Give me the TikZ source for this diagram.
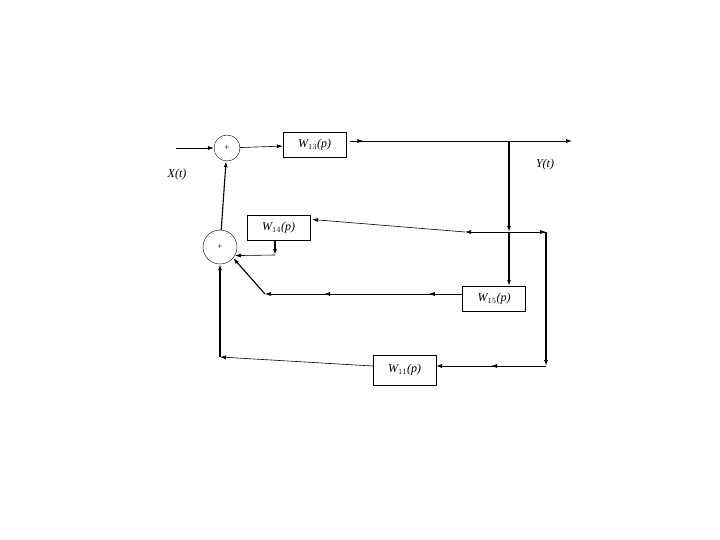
\documentclass[tikz,border=0pt]{standalone}
\usepackage{fontspec}
\setmainfont{Liberation Serif}
\usetikzlibrary{arrows.meta,decorations.markings,calc}
\begin{document}
\begin{tikzpicture}[x=1pt,y=-1pt,
  blk/.style={draw,minimum width=63pt,minimum height=25pt,inner sep=0pt,font=\itshape\fontsize{12}{12}\selectfont},
  sum/.style={draw,circle,inner sep=0pt,font=\fontsize{9}{9}\selectfont},
  ar/.style={-{Latex[length=6pt,width=4pt]},line width=0.6pt},
  thk/.style={ar,line width=1.1pt},
  mid/.style={postaction={decorate},decoration={markings,mark=at position #1 with {\arrow{Latex[length=6pt,width=4pt]}}}},
  midtwo/.style 2 args={postaction={decorate},decoration={markings,mark=at position #1 with {\arrow{Latex[length=6pt,width=4pt]}},mark=at position #2 with {\arrow{Latex[length=6pt,width=4pt]}}}},
  lbl/.style={font=\itshape\fontsize{12}{12}\selectfont}]
\useasboundingbox (0,0) rectangle (720,540);
\node[sum,minimum size=26pt] (s1) at (227,148) {+};
\node[sum,minimum size=34pt] (s2) at (220,247) {+};
\node[blk] (w13) at (314.5,145) {W$_{13}$(p)};
\node[blk] (w14) at (278.5,227.5) {W$_{14}$(p)};
\node[blk] (w15) at (494,298.5) {W$_{15}$(p)};
\node[blk,minimum height=30pt] (w11) at (404.5,370) {W$_{11}$(p)};
\node[lbl] (x) at (177,175) {X(t)};
\node[lbl] (y) at (545,165) {Y(t)};
\coordinate (in) at (176,148);
\coordinate (o0) at (350,141);
\coordinate (o1) at (572,141);
\coordinate (b1) at (509,141);
\coordinate (b2) at (509,232);
\coordinate (r1) at (546,232);
\coordinate (r2) at (546,366);
\coordinate (l1) at (465,232);
\coordinate (d1) at (275,255);
\coordinate (k1) at (265,294);
\coordinate (f1) at (220,357);
\draw[ar] (in) -- (s1);
\draw[ar] (s1) -- (w13);
\draw[ar,mid=0.06] (o0) -- (o1);
\draw[thk] (b1) -- (b2);
\draw[thk] (b2) -- (w15.north -| b2);
\draw[ar] (b2) -- (r1);
\draw[thk] (r1) -- (r2);
\draw[ar,mid=0.5] (r2) -- (w11.east |- r2);
\draw[ar] (r1) -- (l1);
\draw[ar] (l1) -- ($(w14.east)+(2,-8)$);
\draw[thk] (w14.south -| d1) -- (d1);
\draw[ar] (d1) -- (s2.-30);
\draw[ar,midtwo={0.17}{0.7}] (w15.west |- k1) -- (k1);
\draw[thk] (k1) -- (s2.-40);
\draw[ar] (w11.west |- 0,366) -- (f1);
\draw[thk] (f1) -- (s2);
\draw[thk] (s2) -- (s1);
\end{tikzpicture}
\end{document}
